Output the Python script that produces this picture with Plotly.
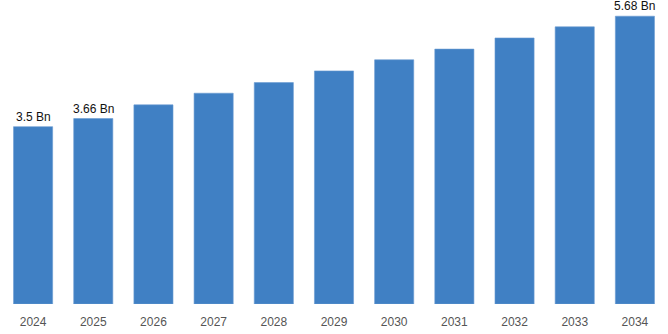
import plotly.graph_objects as go

years = ["2024", "2025", "2026", "2027", "2028", "2029", "2030", "2031", "2032", "2033", "2034"]
values = [3.5, 3.66, 3.93, 4.16, 4.37, 4.60, 4.82, 5.03, 5.25, 5.47, 5.68]
labelled = {"2024", "2025", "2034"}

fig = go.Figure(
    go.Bar(
        x=years,
        y=values,
        marker=dict(color="#4080c4", line=dict(color="#6a9bd2", width=0.6)),
        cliponaxis=False,
    )
)

# value labels above selected bars (category axis: x given as category index)
for i, (y, v) in enumerate(zip(years, values)):
    if y in labelled:
        fig.add_annotation(
            x=i, y=v, xref="x", yref="y", text=f"{v:g} Bn", showarrow=False,
            yanchor="bottom", yshift=2, borderpad=0,
            font=dict(family="Liberation Sans, Arial, sans-serif", size=12, color="#111111"),
        )

fig.update_layout(
    width=668,
    height=334,
    margin=dict(l=3, r=3, t=2, b=30),
    paper_bgcolor="white",
    plot_bgcolor="white",
    bargap=0.35,
    showlegend=False,
    xaxis=dict(
        type="category",
        range=[-0.5, len(years) - 0.5],
        showgrid=False,
        showline=False,
        ticks="",
        ticklabelstandoff=9,
        tickfont=dict(family="Liberation Sans, Arial, sans-serif", size=12, color="#555555"),
    ),
    yaxis=dict(range=[0, 5.96], visible=False, showgrid=False),
)

fig.write_html("out.html")
